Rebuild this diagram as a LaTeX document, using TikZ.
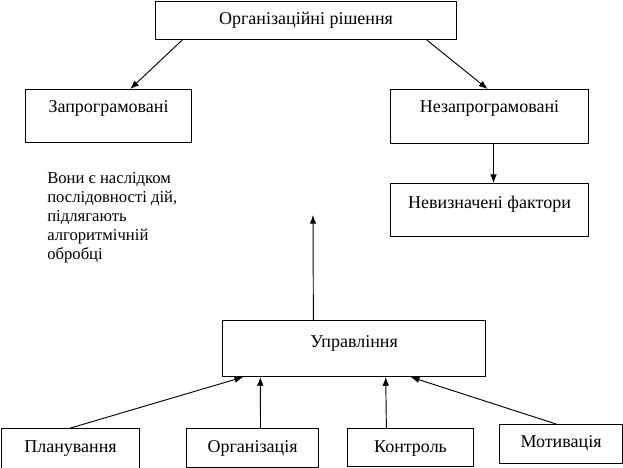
\documentclass[tikz,border=0pt]{standalone}
\usepackage{fontspec}
\setmainfont{Liberation Serif}
\usepackage{tikz}
\usetikzlibrary{arrows.meta}
\usetikzlibrary{calc}

\begin{document}
\begin{tikzpicture}[x=0.75pt,y=-0.75pt,
		box/.style={draw,line width=0.8pt,anchor=north west,inner sep=0pt,align=center,
			font=\fontsize{13.5}{15}\selectfont},
		arr/.style={-{Latex[length=6.5pt,width=5pt]},line width=0.7pt}]
	
	\useasboundingbox (0,0) rectangle (623,467);
	
	%--- BOXES ------------------------------
	
	% Top level
	\node [box,minimum width=225.75pt,text height=17pt,text depth=11.5pt] (rishennia) at (155,1) {Організаційні рішення};
	
	% Two kinds of decisions
	\node [box,minimum width=124.5pt,text height=17pt,text depth=22.75pt] (zaprog) at (25,89) {Запрограмовані};
	\node [box,minimum width=148.5pt,text height=17pt,text depth=23.5pt] (nezaprog) at (390,89) {Незапрограмовані};
	\node [box,minimum width=148.5pt,text height=18.5pt,text depth=21.25pt] (faktory) at (390,183) {Невизначені фактори};
	
	% Note under the left box
	\node [anchor=north west,inner sep=0pt,align=left,font=\fontsize{12.5}{14.25}\selectfont] (notatka) at (47,172)
		{Вони є наслідком\\послідовності дій,\\підлягають\\алгоритмічній\\обробці};
	
	% Management and its functions
	\node [box,minimum width=197.25pt,text height=20.25pt,text depth=21.75pt] (upravl) at (222,320) {Управління};
	\node [box,minimum width=103.5pt,text height=17.75pt,text depth=12.25pt] (planuv) at (1,428) {Планування};
	\node [box,minimum width=99pt,text height=17.75pt,text depth=11.5pt] (organiz) at (186,428) {Організація};
	\node [box,minimum width=94.5pt,text height=17.75pt,text depth=10.75pt] (kontrol) at (347,428) {Контроль};
	\node [box,minimum width=92.25pt,text height=17.25pt,text depth=12pt] (motyv) at (499,424) {Мотивація};
	
	%--- ARROWS -----------------------------
	
	% From the top box
	\draw [arr] ($(rishennia.south west)!0.09!(rishennia.south east)$) -- ($(zaprog.north west)!0.63!(zaprog.north east)$);
	\draw [arr] ($(rishennia.south west)!0.9!(rishennia.south east)$) -- ($(nezaprog.north west)!0.49!(nezaprog.north east)$);
	\draw [arr] ($(nezaprog.south west)!0.52!(nezaprog.south east)$) -- ($(faktory.north west)!0.52!(faktory.north east)$);
	
	% Up from management
	\coordinate (vgoru) at (313,215);
	\draw [arr] ($(upravl.north west)!0.346!(upravl.north east)$) -- (vgoru);
	
	% Functions into management
	\draw [arr] ($(planuv.north west)!0.5!(planuv.north east)$) -- ($(upravl.south west)!0.08!(upravl.south east)$);
	\draw [arr] ($(organiz.north west)!0.56!(organiz.north east)$) -- ($(upravl.south west)!0.145!(upravl.south east)$);
	\draw [arr] ($(kontrol.north west)!0.31!(kontrol.north east)$) -- ($(upravl.south west)!0.62!(upravl.south east)$);
	\draw [arr] ($(motyv.north west)!0.46!(motyv.north east)$) -- ($(upravl.south west)!0.715!(upravl.south east)$);
	
\end{tikzpicture}
\end{document}
